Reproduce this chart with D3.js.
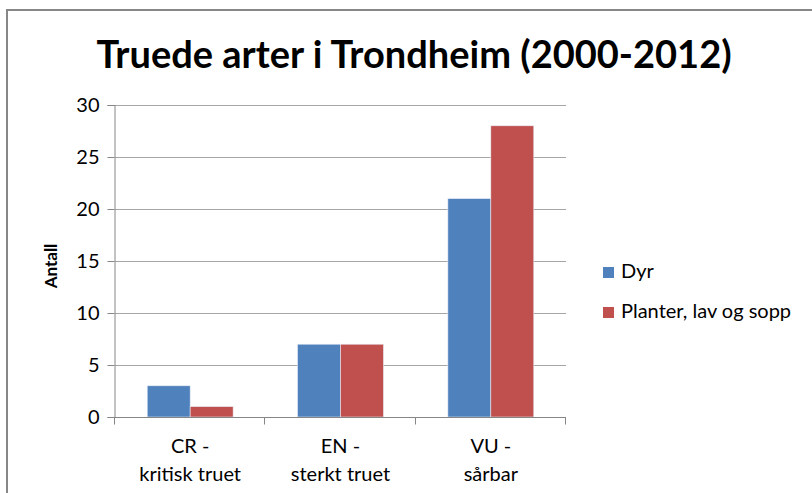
<!DOCTYPE html>
<html lang="no">
<head>
<meta charset="utf-8">
<title>Truede arter i Trondheim</title>
<script src="https://d3js.org/d3.v7.min.js"></script>
<style>
  body { margin: 0; background: #fff; }
  svg text { font-family: Lato, "Open Sans", sans-serif; fill: #000; }
</style>
</head>
<body>
<div id="chart"></div>
<script>
// data
var categories = ["CR -\nkritisk truet", "EN -\nsterkt truet", "VU -\nsårbar"];
var seriesNames = ["Dyr", "Planter, lav og sopp"];
var dyr = [3, 7, 21];
var planter = [1, 7, 28];
var yTicks = [0, 5, 10, 15, 20, 25, 30];
var colors = ["#4F81BD", "#C0504D"];

var W = 812, H = 493;
var m = { left: 115, right: 246, top: 105, bottom: 76 };

var svg = d3.select("#chart").append("svg")
  .attr("width", W).attr("height", H);

// chart frame (only top and left visible in crop)
svg.append("path")
  .attr("d", "M7,500 L7,10 L820,10")
  .attr("fill", "none")
  .attr("stroke", "#878787")
  .attr("stroke-width", 2);

svg.append("text")
  .attr("x", 414).attr("y", 68)
  .attr("text-anchor", "middle")
  .attr("font-size", "38px")
  .attr("font-weight", "bold")
  .text("Truede arter i Trondheim (2000-2012)");

var x = d3.scaleBand()
  .domain(d3.range(categories.length))
  .range([m.left, W - m.right]);

var y = d3.scaleLinear()
  .domain([0, 30])
  .range([H - m.bottom, m.top]);

// gridlines
svg.append("g").selectAll("line")
  .data(yTicks.filter(function(d) { return d > 0; }))
  .enter().append("line")
  .attr("x1", m.left).attr("x2", W - m.right)
  .attr("y1", function(d) { return y(d) + 0.5; })
  .attr("y2", function(d) { return y(d) + 0.5; })
  .attr("stroke", "#a6a6a6");

// bars
var bw = x.bandwidth() / 3.5;
var data = [dyr, planter];
data.forEach(function(vals, s) {
  svg.append("g").selectAll("rect")
    .data(vals)
    .enter().append("rect")
    .attr("x", function(d, i) { return x(i) + x.bandwidth() / 2 - bw + s * bw; })
    .attr("y", function(d) { return y(d); })
    .attr("width", bw)
    .attr("height", function(d) { return y(0) - y(d); })
    .attr("fill", colors[s])
    .attr("stroke", "#e6ecf5")
    .attr("stroke-width", 0.6);
});

// y axis
var yAxis = svg.append("g")
  .attr("transform", "translate(" + (m.left - 0.5) + ",0)")
  .call(d3.axisLeft(y).tickValues(yTicks).tickSize(7).tickPadding(8));
yAxis.select(".domain").attr("stroke", "#868686");
yAxis.selectAll(".tick line").attr("stroke", "#868686");
yAxis.selectAll(".tick text").attr("font-size", "20px").attr("fill", "#000")
  .style("font-family", "Lato, sans-serif");

// x axis
var xAxis = svg.append("g")
  .attr("transform", "translate(0," + (y(0) + 0.5) + ")");
xAxis.append("line")
  .attr("x1", m.left).attr("x2", W - m.right)
  .attr("stroke", "#868686");
xAxis.selectAll("line.tk")
  .data(d3.range(categories.length + 1))
  .enter().append("line")
  .attr("class", "tk")
  .attr("x1", function(i) { return Math.round(m.left + i * x.step()) - 0.5; })
  .attr("x2", function(i) { return Math.round(m.left + i * x.step()) - 0.5; })
  .attr("y1", 0).attr("y2", 7)
  .attr("stroke", "#868686");

xAxis.selectAll("text.cat")
  .data(categories)
  .enter().append("text")
  .attr("class", "cat")
  .attr("text-anchor", "middle")
  .attr("font-size", "20px")
  .attr("x", function(d, i) { return x(i) + x.bandwidth() / 2; })
  .attr("y", 35)
  .each(function(d) {
    var t = d3.select(this);
    d.split("\n").forEach(function(line, k) {
      t.append("tspan")
        .attr("x", t.attr("x"))
        .attr("dy", k === 0 ? 0 : 28)
        .text(line);
    });
  });

// y axis title
svg.append("text")
  .attr("transform", "translate(57,266) rotate(-90)")
  .attr("text-anchor", "middle")
  .attr("font-size", "17px")
  .attr("font-weight", "bold")
  .text("Antall");

// legend
var legend = svg.append("g");
seriesNames.forEach(function(name, s) {
  var ly = 278 + s * 40;
  legend.append("rect")
    .attr("x", 603).attr("y", ly - 11)
    .attr("width", 11).attr("height", 11)
    .attr("fill", colors[s]);
  legend.append("text")
    .attr("x", 621).attr("y", ly)
    .attr("font-size", "20px")
    .text(name);
});
</script>
</body>
</html>
